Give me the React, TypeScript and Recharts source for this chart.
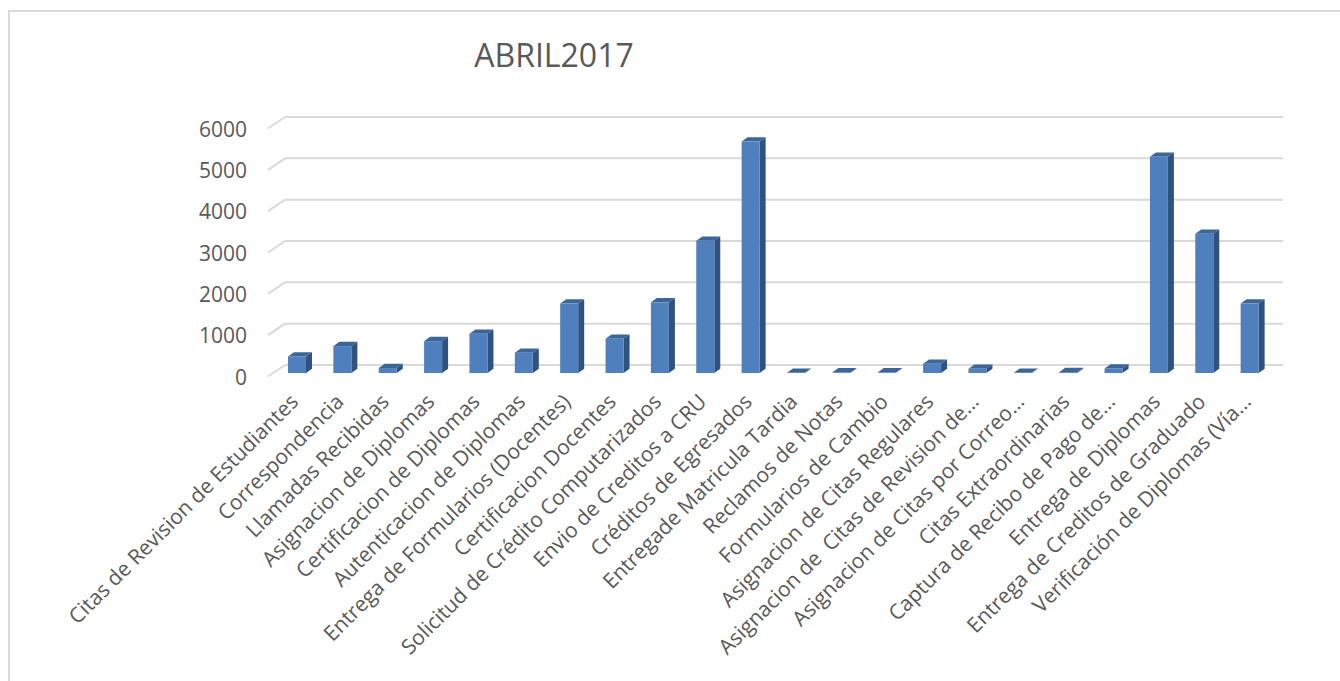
import { BarChart, Bar, XAxis, YAxis, CartesianGrid } from "recharts";

const categories = [
  "Citas de Revision de Estudiantes",
  "Correspondencia",
  "Llamadas Recibidas",
  "Asignacion de Diplomas",
  "Certificacion de Diplomas",
  "Autenticacion de Diplomas",
  "Entrega de Formularios (Docentes)",
  "Certificacion Docentes",
  "Solicitud de Crédito Computarizados",
  "Envio de Creditos a CRU",
  "Créditos de Egresados",
  "Entregade Matricula Tardia",
  "Reclamos de Notas",
  "Formularios de Cambio",
  "Asignacion de Citas Regulares",
  "Asignacion de  Citas de Revision de…",
  "Asignacion de Citas por Correo…",
  "Citas Extraordinarias",
  "Captura de Recibo de Pago de…",
  "Entrega de Diplomas",
  "Entrega de Creditos de Graduado",
  "Verificación de Diplomas (Vía…",
];

const values = [
  400, 650, 120, 770, 950, 490, 1680, 830, 1710, 3200, 5600, 5, 15, 15, 225,
  100, 5, 20, 110, 5230, 3370, 1680,
];

const yTicks = [0, 1000, 2000, 3000, 4000, 5000, 6000];

const data = categories.map((name, i) => ({ name, value: values[i] }));

const FONT = "'Open Sans', sans-serif";
const TEXT = "#595959";
const GRID = "#d9d9d9";

// depth of the "3D" wall and of the bars
const WALL_DX = 17;
const WALL_DY = 11.5;
const BAR_SHIFT_X = -11;
const BAR_SHIFT_Y = 8;
const BAR_DX = 6;
const BAR_DY = 4.3;

function Bar3D(props: any) {
  const { x, y, width, height } = props;
  const fx = x + BAR_SHIFT_X;
  const fy = y + BAR_SHIFT_Y;
  const w = width;
  const h = Math.max(height, 0);
  return (
    <g>
      <polygon
        points={`${fx},${fy} ${fx + BAR_DX},${fy - BAR_DY} ${fx + w + BAR_DX},${fy - BAR_DY} ${fx + w},${fy}`}
        fill="#3c6698"
      />
      <polygon
        points={`${fx + w},${fy} ${fx + w + BAR_DX},${fy - BAR_DY} ${fx + w + BAR_DX},${fy + h - BAR_DY} ${fx + w},${fy + h}`}
        fill="#30527e"
      />
      <rect x={fx} y={fy} width={w} height={h} fill="#4f80bd" />
    </g>
  );
}

function GridLine(props: any) {
  const { x1, y1, x2, y2 } = props;
  return (
    <g>
      <line x1={x1} y1={y1} x2={x2} y2={y2} stroke={GRID} strokeWidth={2} />
      <line
        x1={x1 - WALL_DX}
        y1={y1 + WALL_DY}
        x2={x1}
        y2={y1}
        stroke={GRID}
        strokeWidth={2}
      />
    </g>
  );
}

function YTick(props: any) {
  const { x, y, payload } = props;
  return (
    <text
      x={x}
      y={y + WALL_DY}
      textAnchor="end"
      dominantBaseline="central"
      fontFamily={FONT}
      fontSize={21}
      fill={TEXT}
    >
      {payload.value}
    </text>
  );
}

function XTick(props: any) {
  const { x, y, payload } = props;
  const px = x - 8;
  const py = y + 30;
  return (
    <text
      x={px}
      y={py}
      transform={`rotate(-45 ${px} ${py})`}
      textAnchor="end"
      fontFamily={FONT}
      fontSize={21}
      fill={TEXT}
      style={{ whiteSpace: "pre" }}
    >
      {payload.value}
    </text>
  );
}

export default function App() {
  return (
    <div
      style={{
        position: "absolute",
        left: 0,
        top: 0,
        width: 1340,
        height: 681,
        background: "#fff",
        overflow: "hidden",
      }}
    >
      <div
        style={{
          position: "absolute",
          left: 8,
          top: 10,
          width: 1340,
          height: 681,
          borderTop: `2px solid ${GRID}`,
          borderLeft: `2px solid ${GRID}`,
        }}
      />
      <div
        style={{
          position: "absolute",
          left: 354,
          width: 400,
          top: 33,
          textAlign: "center",
          fontFamily: FONT,
          fontSize: 32,
          color: TEXT,
          lineHeight: "44px",
        }}
      >
        ABRIL2017
      </div>
      <div style={{ position: "absolute", left: 0, top: 0 }}>
        <BarChart
          width={1340}
          height={681}
          data={data}
          margin={{ top: 117, right: 57, left: 205, bottom: 66 }}
          barSize={18}
        >
          <CartesianGrid vertical={false} horizontal={GridLine} />
          <XAxis
            dataKey="name"
            interval={0}
            height={250}
            axisLine={false}
            tickLine={false}
            tick={XTick}
          />
          <YAxis
            width={80}
            domain={[0, 6000]}
            ticks={yTicks}
            axisLine={false}
            tickLine={false}
            tickMargin={32}
            tick={YTick}
          />
          <Bar dataKey="value" shape={Bar3D} isAnimationActive={false} />
        </BarChart>
      </div>
    </div>
  );
}
